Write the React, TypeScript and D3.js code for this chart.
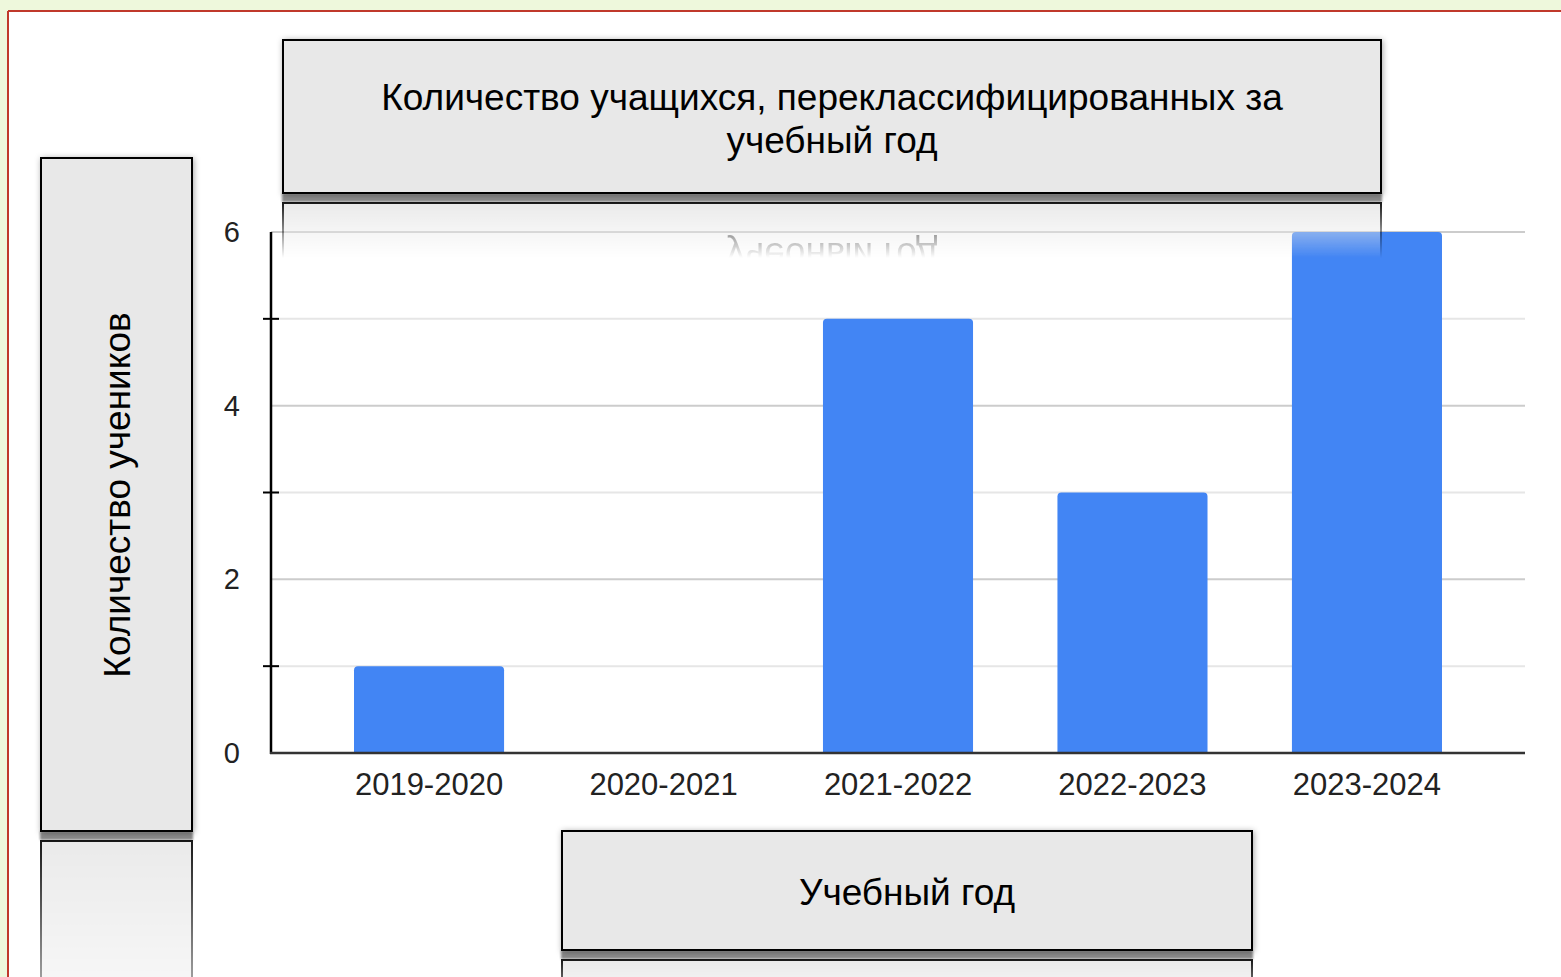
import React from "react";
import * as d3 from "d3";

const categories = ["2019-2020", "2020-2021", "2021-2022", "2022-2023", "2023-2024"];
const values = [1, 0, 5, 3, 6];
const majorTicks = [0, 2, 4, 6];
const minorTicks = [1, 3, 5];
const titleLines = ["Количество учащихся, переклассифицированных за", "учебный год"];
const yTitle = "Количество учеников";
const xTitle = "Учебный год";

const W = 1561;
const H = 977;
const FONT = "'Liberation Sans', Arial, sans-serif";

type BoxProps = {
  id: string;
  x: number;
  y: number;
  w: number;
  h: number;
  fade: number;
  reflectText?: boolean;
  children?: React.ReactNode;
};

function BoxBody({ x, y, w, h, children, shadow }: { x: number; y: number; w: number; h: number; children?: React.ReactNode; shadow?: boolean }) {
  return (
    <g>
      <rect x={x} y={y} width={w} height={h} fill="#e8e8e8" stroke="#000" strokeWidth={2} filter={shadow ? "url(#boxShadow)" : undefined} />
      {children}
    </g>
  );
}

function Box({ id, x, y, w, h, fade, reflectText, children }: BoxProps) {
  const gap = 10;
  const top = y + h + gap;
  return (
    <g>
      <defs>
        <linearGradient id={`g-${id}`} gradientUnits="userSpaceOnUse" x1={0} y1={top} x2={0} y2={top + fade}>
          <stop offset="0" stopColor="#fff" stopOpacity={0.9} />
          <stop offset="1" stopColor="#fff" stopOpacity={0} />
        </linearGradient>
        <mask id={`m-${id}`} maskUnits="userSpaceOnUse" x={x - 20} y={top - 2} width={w + 40} height={fade + 4}>
          <rect x={x - 20} y={top - 2} width={w + 40} height={fade + 4} fill={`url(#g-${id})`} />
        </mask>
      </defs>
      <rect x={x - 1} y={y + h} width={w + 2} height={gap - 1} fill="#8a8a8a" filter="url(#bandBlur)" />
      <BoxBody x={x} y={y} w={w} h={h} shadow>
        {children}
      </BoxBody>
      <g mask={`url(#m-${id})`}>
        <g transform={`translate(0, ${2 * (y + h) + gap}) scale(1,-1)`}>
          <BoxBody x={x} y={y} w={w} h={h}>
            {reflectText ? children : null}
          </BoxBody>
        </g>
      </g>
    </g>
  );
}

export default function App() {
  const x = d3.scaleBand<string>().domain(categories).range([271, 1525]).paddingInner(0.36).paddingOuter(0.354);
  const y = d3.scaleLinear().domain([0, 6]).range([753, 232]);
  const r = 4;
  const barPath = (cx: number, bw: number, v: number) => {
    const y0 = y(0);
    const y1 = y(v);
    if (v <= 0) return "";
    const p = d3.path();
    p.moveTo(cx, y0);
    p.lineTo(cx, y1 + r);
    p.quadraticCurveTo(cx, y1, cx + r, y1);
    p.lineTo(cx + bw - r, y1);
    p.quadraticCurveTo(cx + bw, y1, cx + bw, y1 + r);
    p.lineTo(cx + bw, y0);
    p.closePath();
    return p.toString();
  };

  return (
    <svg width={W} height={H} style={{ position: "absolute", left: 0, top: 0, display: "block" }} fontFamily={FONT}>
      <defs>
        <filter id="boxShadow" x="-10%" y="-10%" width="120%" height="120%">
          <feDropShadow dx={1} dy={1} stdDeviation={3} floodColor="#000" floodOpacity={0.35} />
        </filter>
        <filter id="bandBlur" x="-5%" y="-50%" width="110%" height="200%">
          <feGaussianBlur stdDeviation={1} />
        </filter>
      </defs>
      <rect x={0} y={0} width={W} height={H} fill="#eef8dc" />
      <rect x={9} y={12} width={W - 9} height={H - 12} fill="#ffffff" />
      <line x1={8} y1={11} x2={W} y2={11} stroke="#c0392b" strokeWidth={2} />
      <line x1={8} y1={11} x2={8} y2={H} stroke="#c0392b" strokeWidth={2} />

      {minorTicks.map((t) => (
        <line key={`mn${t}`} x1={271} x2={1525} y1={y(t)} y2={y(t)} stroke="#e6e6e6" strokeWidth={2} />
      ))}
      {majorTicks.filter((t) => t > 0).map((t) => (
        <line key={`mj${t}`} x1={271} x2={1525} y1={y(t)} y2={y(t)} stroke="#cccccc" strokeWidth={2} />
      ))}

      {categories.map((c, i) => (
        <path key={c} d={barPath(x(c)!, x.bandwidth(), values[i])} fill="#4285f4" />
      ))}

      <line x1={271} x2={271} y1={y(6)} y2={y(0) + 1} stroke="#000" strokeWidth={2.5} />
      <line x1={270} x2={1525} y1={y(0)} y2={y(0)} stroke="#333" strokeWidth={2.5} />
      {minorTicks.map((t) => (
        <line key={`tk${t}`} x1={263} x2={279} y1={y(t)} y2={y(t)} stroke="#000" strokeWidth={2} />
      ))}
      {majorTicks.map((t) => (
        <text key={`yl${t}`} x={240} y={y(t)} dy="0.35em" textAnchor="end" fontSize={29} fill="#222">
          {t}
        </text>
      ))}
      {categories.map((c) => (
        <text key={`xl${c}`} x={x(c)! + x.bandwidth() / 2} y={784} dy="0.35em" textAnchor="middle" fontSize={31} fill="#222">
          {c}
        </text>
      ))}

      <Box id="title" x={283} y={40} w={1098} h={153} fade={55} reflectText>
        <text x={832} y={110} textAnchor="middle" fontSize={37} fill="#000">
          {titleLines[0]}
        </text>
        <text x={832} y={153} textAnchor="middle" fontSize={37} fill="#000">
          {titleLines[1]}
        </text>
      </Box>

      <Box id="ytitle" x={41} y={158} w={151} h={673} fade={240}>
        <text transform={`translate(130, 495) rotate(-90)`} textAnchor="middle" fontSize={37} fill="#000">
          {yTitle}
        </text>
      </Box>

      <Box id="xtitle" x={562} y={831} w={690} h={119} fade={60}>
        <text x={907} y={905} textAnchor="middle" fontSize={37} fill="#000">
          {xTitle}
        </text>
      </Box>
    </svg>
  );
}
